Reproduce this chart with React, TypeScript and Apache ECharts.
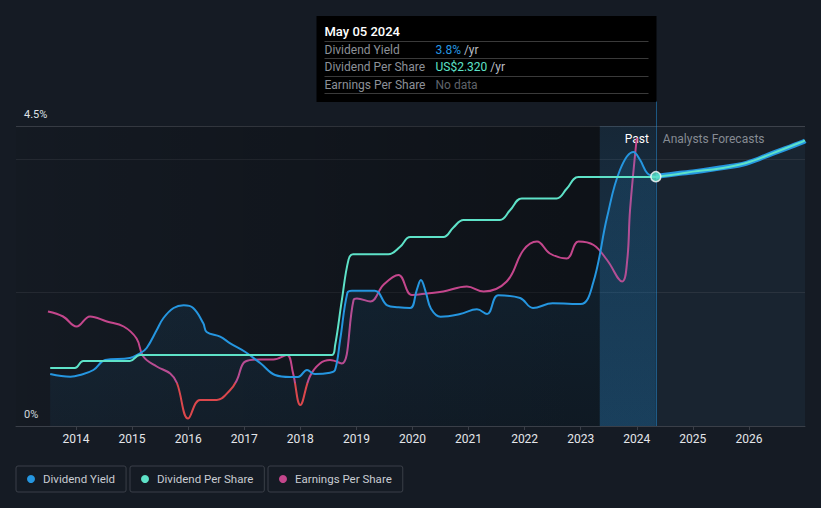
import React, { useEffect, useRef } from "react";
import * as echarts from "echarts";

// ---- tick labels ----
const yearTicks = [2014, 2015, 2016, 2017, 2018, 2019, 2020, 2021, 2022, 2023, 2024, 2025, 2026];
const yieldTickLabels = [0, 4.5];

// ---- dividend yield (%) history ----
const yieldYears = [2013.54, 2013.9, 2014.07, 2014.31, 2014.52, 2014.96, 2015.14, 2015.26, 2015.44, 2015.56, 2015.74, 2015.92, 2016.09, 2016.27, 2016.33, 2016.57, 2016.75, 2017.02, 2017.29, 2017.55, 2017.82, 2017.96, 2018.12, 2018.26, 2018.53, 2018.62, 2018.71, 2018.84, 2018.92, 2019.33, 2019.55, 2019.75, 2019.96, 2020.08, 2020.15, 2020.24, 2020.33, 2020.5, 2020.85, 2021.15, 2021.33, 2021.53, 2021.92, 2022.15, 2022.5, 2023.0, 2023.22, 2023.47, 2023.7, 2023.94, 2024.06, 2024.19, 2024.34];
const yieldValues = [0.78, 0.74, 0.765, 0.84, 0.99, 1.02, 1.09, 1.17, 1.44, 1.62, 1.77, 1.81, 1.77, 1.54, 1.41, 1.34, 1.24, 1.11, 0.94, 0.765, 0.735, 0.735, 0.84, 0.78, 0.8, 0.84, 1.29, 2.0, 2.03, 2.03, 1.81, 1.78, 1.77, 2.05, 2.19, 2.0, 1.76, 1.64, 1.68, 1.75, 1.68, 1.96, 1.92, 1.77, 1.84, 1.83, 2.14, 3.13, 3.84, 4.11, 3.99, 3.79, 3.74];

// ---- dividend per share (US$) history ----
const dpsYears = [2013.54, 2013.98, 2014.13, 2014.96, 2015.14, 2018.56, 2018.62, 2018.74, 2018.86, 2018.94, 2019.57, 2019.78, 2019.96, 2020.55, 2020.73, 2020.91, 2021.56, 2021.74, 2021.95, 2022.57, 2022.75, 2022.96, 2024.34];
const dpsValues = [0.54, 0.54, 0.606, 0.606, 0.661, 0.661, 0.75, 1.17, 1.55, 1.6, 1.6, 1.67, 1.76, 1.76, 1.85, 1.92, 1.92, 2.01, 2.12, 2.12, 2.21, 2.32, 2.32];

// ---- earnings per share (US$) history ----
const epsYears = [2013.5, 2013.77, 2014.01, 2014.25, 2014.55, 2014.85, 2015.08, 2015.2, 2015.44, 2015.68, 2015.8, 2016.0, 2016.21, 2016.51, 2016.75, 2016.87, 2017.02, 2017.29, 2017.52, 2017.76, 2017.87, 2018.0, 2018.17, 2018.35, 2018.53, 2018.74, 2018.95, 2019.01, 2019.25, 2019.48, 2019.75, 2019.99, 2020.26, 2020.55, 2020.97, 2021.27, 2021.68, 2021.98, 2022.22, 2022.45, 2022.75, 2022.96, 2023.23, 2023.47, 2023.74, 2023.83, 2023.88, 2024.0];
const epsValues = [1.43, 1.33, 1.13, 1.33, 1.23, 1.13, 0.89, 0.53, 0.33, 0.19, 0.0, -0.71, -0.34, -0.34, -0.14, 0.06, 0.43, 0.47, 0.47, 0.56, 0.2, -0.44, 0.13, 0.39, 0.46, 0.39, 1.66, 1.69, 1.63, 1.96, 2.16, 1.76, 1.79, 1.83, 1.93, 1.83, 2.03, 2.66, 2.83, 2.59, 2.49, 2.83, 2.76, 2.46, 2.03, 2.46, 3.46, 4.9];

// ---- analysts forecasts ----
const forecastYears = [2024.34, 2024.77, 2025.0, 2025.48, 2025.95, 2026.42, 2026.96, 2027.0];
const forecastYield = [3.74, 3.79, 3.81, 3.87, 3.94, 4.09, 4.26, 4.28];
const forecastDps = [2.32, 2.35, 2.37, 2.4, 2.45, 2.54, 2.65, 2.66];

// ---- present / regions ----
const todayYear = 2024.34;
const pastBandStart = 2023.34;
const xMin = 2012.93;
const xMax = 2027.0;

// ---- tooltip texts ----
const tooltipDate = "May 05 2024";
const tooltipYield = "3.8%";
const tooltipDps = "US$2.320";
const tooltipEps = "No data";

const BLUE = "#2596e0";
const TEAL = "#5ee2c8";
const PINK = "#c4468c";
const RED = "#e84242";
const BG = "#151b24";
const FONT = "Roboto, 'Noto Sans', sans-serif";

const zip = (xs: number[], ys: number[]) => xs.map((x, i) => [x, ys[i]]);

export default function App() {
  const ref = useRef<HTMLDivElement>(null);

  useEffect(() => {
    if (!ref.current) return;
    const chart = echarts.init(ref.current, undefined, { renderer: "svg" });

    const legendBase = {
      top: 466,
      orient: "horizontal",
      selectedMode: false,
      icon: "circle",
      itemWidth: 8,
      itemHeight: 8,
      padding: [7, 11, 7, 11],
      borderColor: "#3a3f48",
      borderWidth: 1,
      borderRadius: 2,
      textStyle: { color: "#c9ccd2", fontSize: 11.5, fontFamily: FONT, padding: [0, 0, 0, 3] },
    };

    chart.setOption({
      animation: false,
      backgroundColor: BG,
      textStyle: { fontFamily: FONT },
      grid: { left: 16, right: 16, top: 126, bottom: 82, containLabel: false },
      legend: [
        { ...legendBase, left: 16, data: ["Dividend Yield"] },
        { ...legendBase, left: 130, data: ["Dividend Per Share"] },
        { ...legendBase, left: 268, data: ["Earnings Per Share"] },
      ],
      xAxis: {
        type: "value",
        min: xMin,
        max: xMax,
        axisLine: { show: true, lineStyle: { color: "#3a3f48", width: 1 } },
        axisTick: { show: true, customValues: yearTicks, length: 4, lineStyle: { color: "#3a3f48" } },
        axisLabel: {
          customValues: yearTicks,
          formatter: (v: number) => String(Math.round(v)),
          color: "#e4e6ea",
          fontSize: 12,
          margin: 7,
          fontFamily: FONT,
        },
        splitLine: { show: false },
      },
      yAxis: [
        {
          type: "value",
          min: 0,
          max: 4.5,
          interval: 2,
          axisLine: { show: false },
          axisTick: { show: false },
          axisLabel: {
            inside: true,
            showMaxLabel: true,
            formatter: (v: number) => (yieldTickLabels.includes(v) ? `${v}%` : ""),
            color: "#dfe1e5",
            fontSize: 11,
            margin: 8,
            verticalAlign: "bottom",
            padding: [0, 0, 6, 0],
            fontFamily: FONT,
          },
          splitLine: {
            show: true,
            lineStyle: { color: ["#3a3f48", "#262b34", "#262b34", "#3a3f48"], width: 1 },
          },
        },
        { type: "value", min: 0, max: 2.795, show: false, splitLine: { show: false } },
        { type: "value", min: -0.86, max: 5.14, show: false, splitLine: { show: false } },
      ],
      visualMap: {
        type: "piecewise",
        show: false,
        seriesIndex: 1,
        dimension: 1,
        pieces: [
          { min: -10, max: 0, color: RED },
          { min: 0, max: 10, color: PINK },
        ],
        outOfRange: { color: PINK },
      },
      series: [
        {
          name: "bg",
          type: "line",
          data: [[xMin, 0], [xMax, 0]],
          showSymbol: false,
          lineStyle: { opacity: 0 },
          z: 0,
          silent: true,
          markArea: {
            silent: true,
            data: [
              [
                {
                  xAxis: xMin,
                  itemStyle: {
                    color: new echarts.graphic.LinearGradient(0, 0, 1, 0, [
                      { offset: 0, color: "rgba(0,0,0,0.05)" },
                      { offset: 1, color: "rgba(0,0,0,0.35)" },
                    ]),
                  },
                },
                { xAxis: pastBandStart },
              ],
              [
                {
                  xAxis: pastBandStart,
                  itemStyle: {
                    color: new echarts.graphic.LinearGradient(0, 0, 0, 1, [
                      { offset: 0, color: "rgba(35,148,223,0.10)" },
                      { offset: 1, color: "rgba(35,148,223,0.26)" },
                    ]),
                  },
                  label: {
                    show: true,
                    position: "insideTopRight",
                    distance: 7,
                    formatter: "Past",
                    color: "#ffffff",
                    fontSize: 12,
                    fontFamily: FONT,
                  },
                },
                { xAxis: todayYear },
              ],
              [
                {
                  xAxis: todayYear,
                  itemStyle: { color: "rgba(255,255,255,0.018)" },
                  label: {
                    show: true,
                    position: "insideTopLeft",
                    distance: 7,
                    formatter: "Analysts Forecasts",
                    color: "#868b93",
                    fontSize: 12,
                    fontFamily: FONT,
                  },
                },
                { xAxis: xMax },
              ],
            ],
          },
        },
        {
          name: "Earnings Per Share",
          type: "line",
          yAxisIndex: 2,
          data: zip(epsYears, epsValues),
          smooth: 0.4,
          showSymbol: false,
          color: PINK,
          lineStyle: { width: 2 },
          z: 2,
        },
        {
          name: "Dividend Yield",
          type: "line",
          yAxisIndex: 0,
          data: zip(yieldYears, yieldValues),
          smooth: 0.4,
          showSymbol: false,
          color: BLUE,
          lineStyle: { width: 2, color: BLUE },
          areaStyle: {
            color: new echarts.graphic.LinearGradient(0, 0, 0, 1, [
              { offset: 0, color: "rgba(35,148,223,0.20)" },
              { offset: 1, color: "rgba(35,148,223,0.08)" },
            ]),
          },
          z: 3,
          markLine: {
            silent: true,
            symbol: ["none", "none"],
            label: { show: false },
            lineStyle: { color: "rgba(35,148,223,0.5)", width: 1, type: "solid" },
            data: [{ xAxis: todayYear }],
          },
        },
        {
          name: "Dividend Per Share",
          type: "line",
          yAxisIndex: 1,
          data: zip(dpsYears, dpsValues),
          smooth: 0.4,
          showSymbol: false,
          color: TEAL,
          lineStyle: { width: 2, color: TEAL },
          z: 4,
        },
        {
          name: "Dividend Yield",
          type: "line",
          yAxisIndex: 0,
          data: zip(forecastYears, forecastYield),
          smooth: 0.4,
          showSymbol: false,
          color: BLUE,
          lineStyle: { width: 5, color: BLUE },
          areaStyle: { color: "rgba(35,148,223,0.07)" },
          z: 5,
        },
        {
          name: "Dividend Per Share",
          type: "line",
          yAxisIndex: 1,
          data: zip(forecastYears, forecastDps),
          smooth: 0.4,
          showSymbol: false,
          color: TEAL,
          lineStyle: { width: 2, color: TEAL },
          z: 6,
        },
        {
          name: "marker",
          type: "scatter",
          yAxisIndex: 0,
          data: [[todayYear, yieldValues[yieldValues.length - 1]]],
          symbolSize: 10,
          itemStyle: { color: TEAL, borderColor: "#ffffff", borderWidth: 1.5 },
          z: 10,
          silent: true,
        },
      ],
    });

    const lineX = Math.round(chart.convertToPixel({ xAxisIndex: 0 }, todayYear) as number) + 0.5;
    const boxW = 340;
    const boxX = lineX - boxW;
    const rowLabel = { fill: "#8d9198", fontSize: 12, fontFamily: FONT };
    const sep = (y: number) => ({
      type: "line",
      shape: { x1: 8, y1: y, x2: boxW - 8, y2: y },
      style: { stroke: "#3a3a3a", lineWidth: 1 },
    });

    chart.setOption({
      graphic: [
        {
          type: "line",
          shape: { x1: lineX, y1: 101, x2: lineX, y2: 126 },
          style: { stroke: "rgba(35,148,223,0.5)", lineWidth: 1 },
          silent: true,
        },
        {
          type: "group",
          x: boxX,
          y: 16,
          silent: true,
          children: [
            { type: "rect", shape: { x: 0, y: 0, width: boxW, height: 86 }, style: { fill: "#000000" } },
            {
              type: "text",
              x: 8,
              y: 15,
              style: { text: tooltipDate, fill: "#ffffff", fontSize: 13, fontWeight: 500, fontFamily: FONT, verticalAlign: "middle" },
            },
            sep(25.5),
            { type: "text", x: 8, y: 33.5, style: { ...rowLabel, text: "Dividend Yield", verticalAlign: "middle" } },
            {
              type: "text",
              x: 119,
              y: 33.5,
              style: {
                text: `{a|${tooltipYield}}{b| /yr}`,
                verticalAlign: "middle",
                rich: {
                  a: { fill: BLUE, fontSize: 12, fontFamily: FONT },
                  b: { fill: "#b9bdc3", fontSize: 12, fontFamily: FONT },
                },
              },
            },
            sep(42.5),
            { type: "text", x: 8, y: 50.5, style: { ...rowLabel, text: "Dividend Per Share", verticalAlign: "middle" } },
            {
              type: "text",
              x: 119,
              y: 50.5,
              style: {
                text: `{a|${tooltipDps}}{b| /yr}`,
                verticalAlign: "middle",
                rich: {
                  a: { fill: TEAL, fontSize: 12, fontFamily: FONT },
                  b: { fill: "#b9bdc3", fontSize: 12, fontFamily: FONT },
                },
              },
            },
            sep(60.5),
            { type: "text", x: 8, y: 68.5, style: { ...rowLabel, text: "Earnings Per Share", verticalAlign: "middle" } },
            {
              type: "text",
              x: 119,
              y: 68.5,
              style: { text: tooltipEps, fill: "#5f636a", fontSize: 12, fontFamily: FONT, verticalAlign: "middle" },
            },
            sep(77.5),
          ],
        },
      ],
    });

    return () => chart.dispose();
  }, []);

  return (
    <div
      ref={ref}
      style={{ position: "fixed", left: 0, top: 0, width: 821, height: 508 }}
    />
  );
}
